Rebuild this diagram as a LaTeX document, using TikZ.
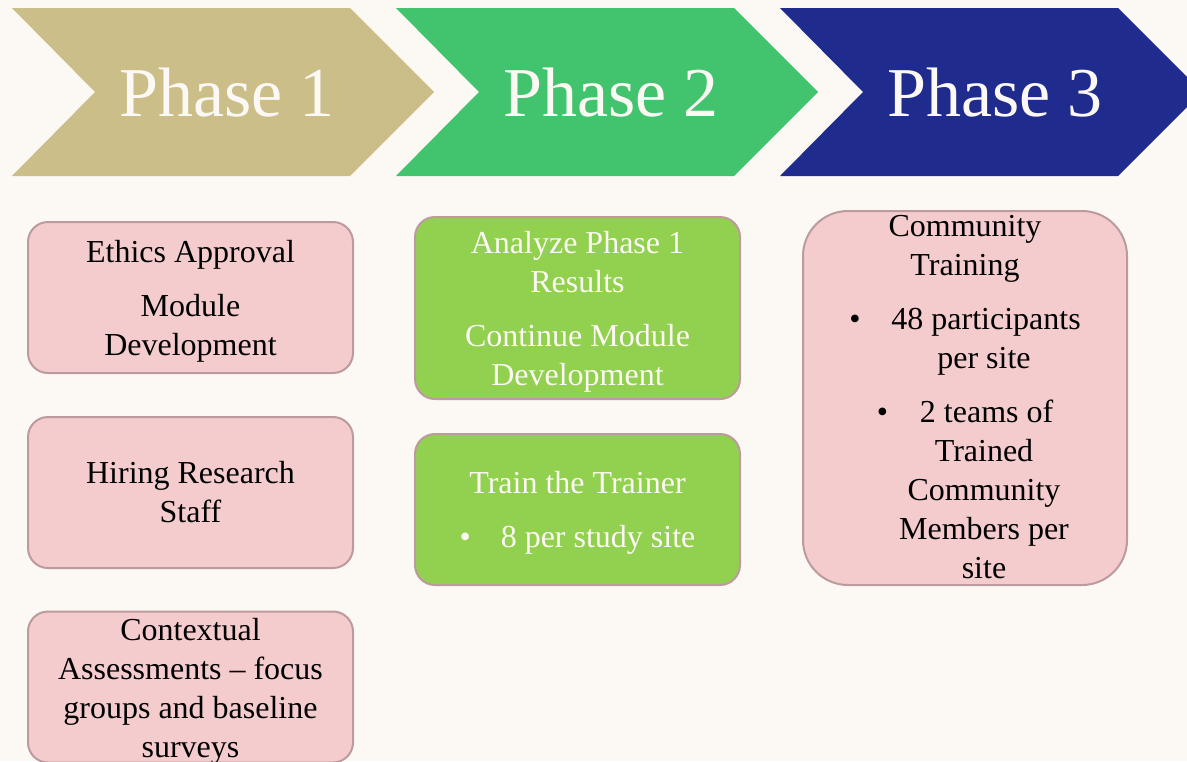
\documentclass[tikz,border=0pt]{standalone}
\usepackage{fontspec}
\setmainfont{Liberation Serif}
\usepackage{tikz}
\definecolor{bgcream}{HTML}{FCF9F5}
\definecolor{phaseone}{HTML}{CBBE89}
\definecolor{phasetwo}{HTML}{42C46E}
\definecolor{phasethree}{HTML}{1F2C8E}
\definecolor{pinkfill}{HTML}{F5CCCE}
\definecolor{greenfill}{HTML}{92D14F}
\definecolor{boxline}{HTML}{BC9A9E}
\tikzset{
	phase/.style={text=bgcream, font=\fontsize{70}{84}\selectfont, anchor=base, inner sep=0pt},
	pinkbox/.style={draw=boxline, fill=pinkfill, line width=2pt, rounded corners=20pt,
		minimum width=325pt, minimum height=151pt, inner sep=0pt},
	greenbox/.style={pinkbox, fill=greenfill},
	boxtext/.style={font=\fontsize{32}{39}\selectfont, align=center, anchor=base, inner sep=0pt}
}
\begin{document}
\begin{tikzpicture}[x=1pt,y=-1pt]
			\useasboundingbox[fill=bgcream] (0,0) rectangle (1187,761);
			\foreach \x/\col/\n in {12/phaseone/1, 396/phasetwo/2, 780/phasethree/3}{
				\fill[\col] (\x,8) -- ++(338,0) -- ++(84,84) -- ++(-84,84) -- ++(-338,0) -- ++(83,-84) -- cycle;
				\node[phase] (p\n) at (\x+215,116) {Phase \n};
			}
			\node[pinkbox] (bA) at (190.5,297.5) {};
			\node[pinkbox] (bB) at (190.5,492.5) {};
			\node[pinkbox] (bC) at (190.5,687) {};
			\node[greenbox, minimum height=182pt] (bD) at (577.5,308) {};
			\node[greenbox] (bE) at (577.5,509.5) {};
			\node[pinkbox, minimum width=324pt, minimum height=374pt, rounded corners=45pt] (bF) at (965,398) {};
			\node[boxtext] (tA) at (190.5,355) {Ethics Approval\\[15pt]Module\\Development};
			\node[boxtext] (tB) at (190.5,522) {Hiring Research\\Staff};
			\node[boxtext] (tC) at (190.5,757) {Contextual\\Assessments -- focus\\groups and baseline\\surveys};
			\node[boxtext, text=bgcream] (tD) at (577.5,385) {Analyze Phase 1\\Results\\[15pt]Continue Module\\Development};
			\node[boxtext, text=bgcream] (tE) at (577.5,547) {Train the Trainer\\[15pt]\textbullet\hspace{30pt}8 per study site};
			\node[boxtext] (tF) at (965,578) {Community\\Training\\[15pt]\textbullet\hspace{31pt}48 participants\\\hspace*{38pt}per site\\[15pt]\textbullet\hspace{32pt}2 teams of\\\hspace*{38pt}Trained\\\hspace*{38pt}Community\\\hspace*{38pt}Members per\\\hspace*{38pt}site};
		\end{tikzpicture}
\end{document}
